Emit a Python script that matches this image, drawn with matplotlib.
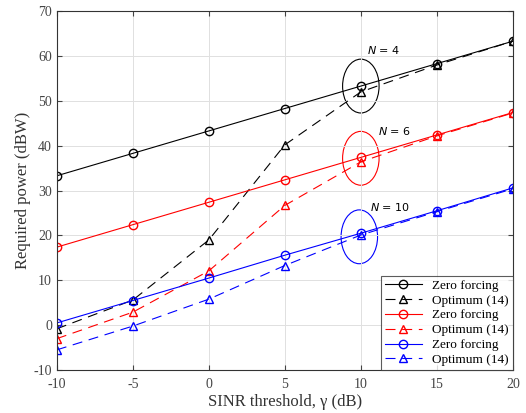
import numpy as np
import matplotlib
matplotlib.use('Agg')
import matplotlib.pyplot as plt
from matplotlib.patches import Ellipse

# dados
sinr = [-10, -5, 0, 5, 10, 15, 20]
zf_n4 = [33.3, 38.3, 43.3, 48.3, 53.3, 58.3, 63.3]
opt_n4 = [-0.8, 5.6, 19.0, 40.2, 52.0, 58.0, 63.3]
zf_n6 = [17.4, 22.4, 27.4, 32.4, 37.4, 42.4, 47.4]
opt_n6 = [-3.0, 2.9, 12.1, 26.7, 36.4, 42.2, 47.3]
zf_n10 = [0.5, 5.5, 10.5, 15.6, 20.5, 25.5, 30.6]
opt_n10 = [-5.5, -0.2, 5.8, 13.3, 20.1, 25.3, 30.4]

ant_labels = ['$N$ = 4', '$N$ = 6', '$N$ = 10']
ant_pos = [(10.4, 61.3), (11.1, 43.3), (10.6, 26.4)]
ell_centers = [(10, 53.3), (10, 37.2), (9.9, 19.7)]
colors = ['black', 'red', 'blue']

plt.rcParams['font.family'] = ['Liberation Serif', 'DejaVu Serif']
plt.rcParams['axes.unicode_minus'] = False

fig = plt.figure(figsize=(5.26, 4.13), dpi=100)
ax = fig.add_axes([0.108, 0.104, 0.867, 0.869])

series = [(zf_n4, opt_n4), (zf_n6, opt_n6), (zf_n10, opt_n10)]
for (zf, opt), c in zip(series, colors):
    ax.plot(sinr, zf, '-', color=c, marker='o', fillstyle='none', markersize=6, linewidth=0.8, label='Zero forcing')
    ax.plot(sinr, opt, '--', color=c, marker='^', fillstyle='none', markersize=6, linewidth=0.8,
            dashes=(9, 6), label='Optimum (14)')

for (cx, cy), c in zip(ell_centers, colors):
    ax.add_patch(Ellipse((cx, cy), 2.4, 12, fill=False, edgecolor=c, linewidth=0.8))

for txt, (tx, ty) in zip(ant_labels, ant_pos):
    ax.text(tx, ty, txt, fontsize=8, family='DejaVu Sans', va='center')

ax.set_xlim(-10, 20)
ax.set_ylim(-10, 70)
ax.set_xticks(np.arange(-10, 21, 5))
ax.set_yticks(np.arange(-10, 71, 10))
ax.grid(True, color='#e0e0e0', linewidth=0.7)
ax.tick_params(direction='in', labelsize=10, colors='#444444', top=True, right=True)
ax.tick_params(axis='x', pad=6)
for s in ax.spines.values():
    s.set_linewidth(0.8)
    s.set_color('#333333')
ax.set_xlabel('SINR threshold, γ (dB)', fontsize=12, color='#333333', labelpad=2)
ax.set_ylabel('Required power (dBW)', fontsize=12, color='#333333', labelpad=2)

leg = ax.legend(loc='lower right', fontsize=9.5, borderaxespad=0, fancybox=False,
                edgecolor='#333333', handlelength=2.8, labelspacing=0.2, borderpad=0.3)
leg.get_frame().set_linewidth(0.8)

fig.savefig('out.png', dpi=100)
